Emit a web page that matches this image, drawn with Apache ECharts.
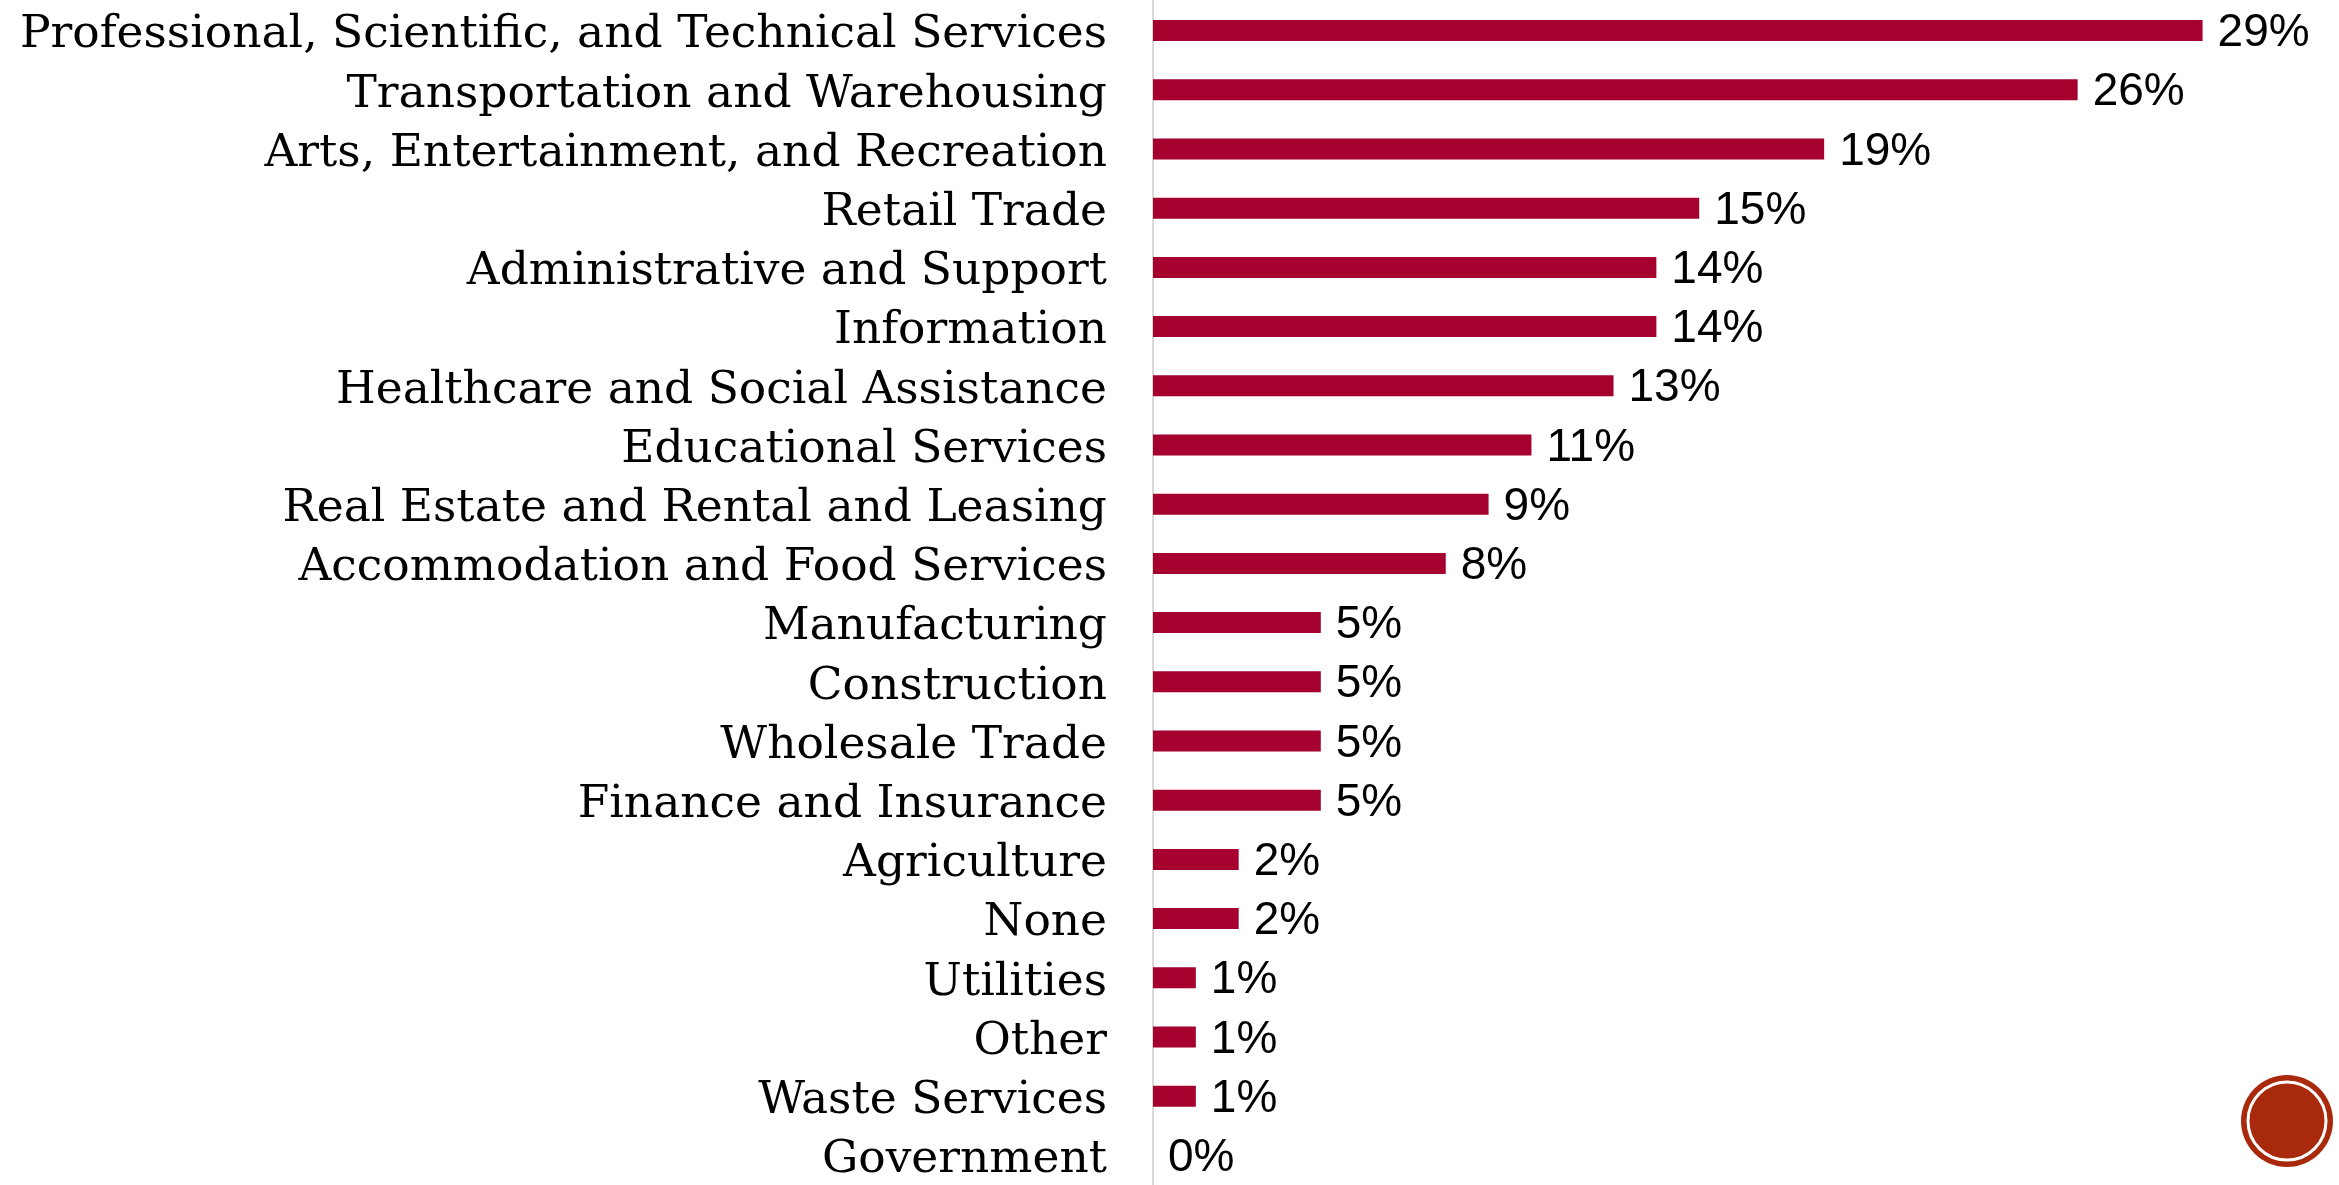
<!DOCTYPE html>
<html>
<head>
<meta charset="utf-8">
<script src="https://cdn.jsdelivr.net/npm/echarts@6/dist/echarts.min.js"></script>
<style>
  html, body { margin: 0; padding: 0; background: #ffffff; }
  #chart { width: 2339px; height: 1185px; }
</style>
</head>
<body>
<div id="chart"></div>
<script>
// Industries of respondents (share of responses, %)
const industries = [
  'Professional, Scientific, and Technical Services',
  'Transportation and Warehousing',
  'Arts, Entertainment, and Recreation',
  'Retail Trade',
  'Administrative and Support',
  'Information',
  'Healthcare and Social Assistance',
  'Educational Services',
  'Real Estate and Rental and Leasing',
  'Accommodation and Food Services',
  'Manufacturing',
  'Construction',
  'Wholesale Trade',
  'Finance and Insurance',
  'Agriculture',
  'None',
  'Utilities',
  'Other',
  'Waste Services',
  'Government'
];
const shares = [29.4, 25.9, 18.8, 15.3, 14.1, 14.1, 12.9, 10.6, 9.4, 8.2,
                4.7, 4.7, 4.7, 4.7, 2.4, 2.4, 1.2, 1.2, 1.2, 0];

const LABEL_FONT = '"DejaVu Serif", serif';
const VALUE_FONT = '"Liberation Sans", Arial, sans-serif';
const chart = echarts.init(document.getElementById('chart'));

chart.setOption({
  backgroundColor: '#ffffff',
  animation: false,
  grid: { left: 1153, top: 1, width: 1071, height: 1192, containLabel: false },
  xAxis: {
    type: 'value', min: 0, max: 30,
    show: false
  },
  yAxis: {
    type: 'category',
    data: industries,
    inverse: true,
    axisLine: { show: true, lineStyle: { color: '#d9d9d9', width: 2 } },
    axisTick: { show: false },
    axisLabel: {
      interval: 0,
      margin: 46,
      color: '#000000',
      fontFamily: LABEL_FONT,
      fontSize: 45.5,
      verticalAlign: 'top',
      lineHeight: 10
    }
  },
  series: [{
    type: 'bar',
    data: shares,
    barWidth: 21,
    itemStyle: { color: '#A5002E' },
    label: {
      show: true,
      position: 'right',
      distance: 15,
      color: '#000000',
      fontFamily: VALUE_FONT,
      fontSize: 46,
      verticalAlign: 'top',
      lineHeight: 6,
      formatter: p => Math.round(p.value) + '%'
    }
  }],
  graphic: [
    { type: 'circle', shape: { cx: 2287, cy: 1121, r: 46 }, style: { fill: '#A8290B' } },
    { type: 'circle', shape: { cx: 2287, cy: 1121, r: 39 }, style: { fill: 'none', stroke: '#ffffff', lineWidth: 3 } }
  ]
});
</script>
</body>
</html>
